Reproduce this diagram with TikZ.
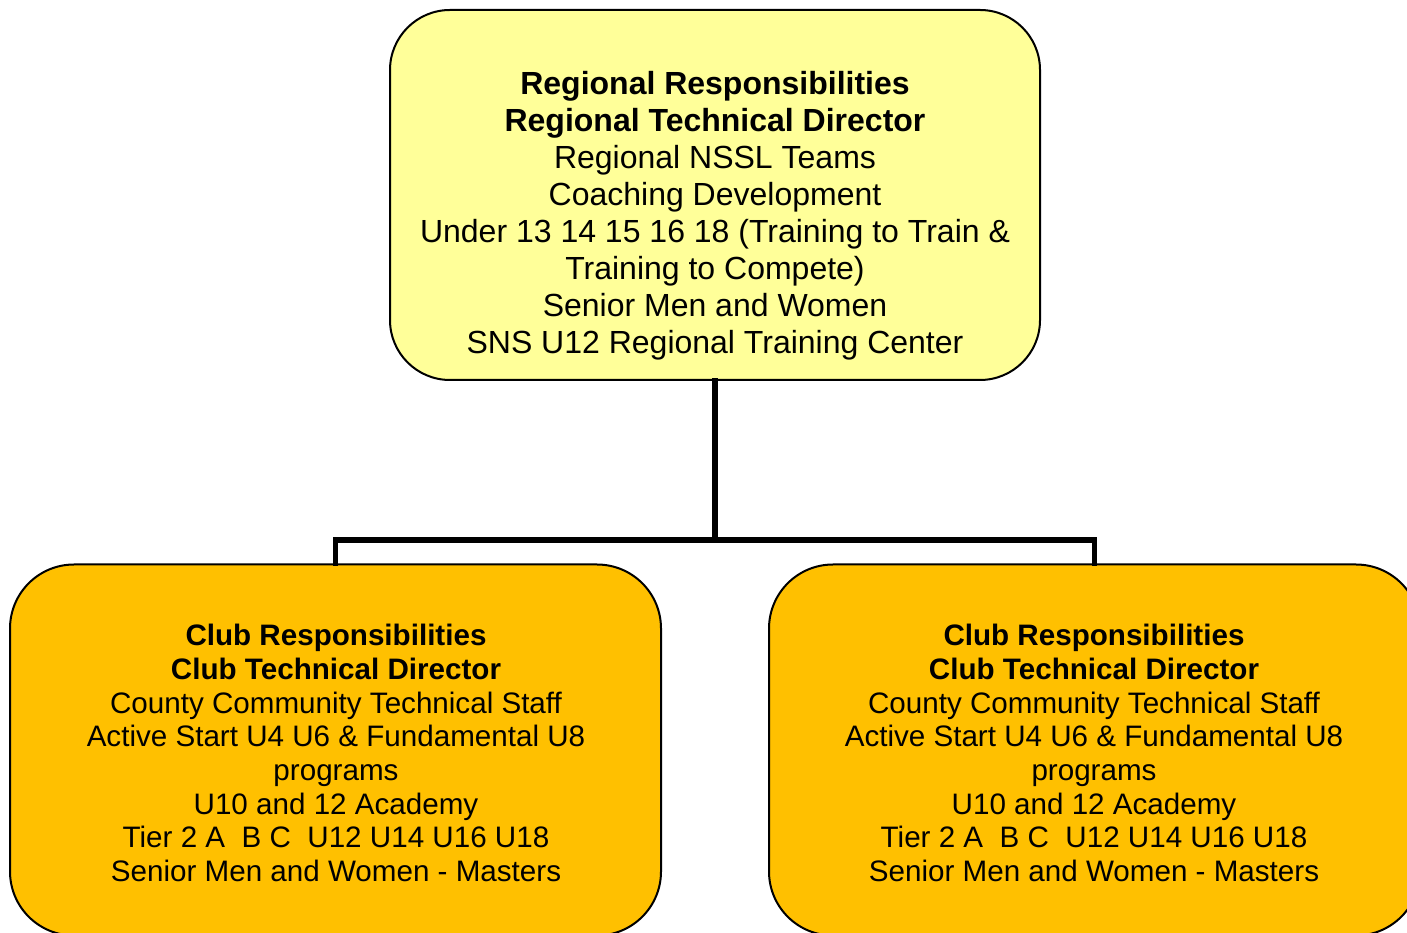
\documentclass[tikz,border=0pt]{standalone}
\usepackage{fontspec}
\setmainfont{Liberation Sans}
\usepackage{tikz}
\usetikzlibrary{calc, positioning}

\definecolor{regyellow}{HTML}{FFFF99}
\definecolor{clubgold}{HTML}{FFC000}

\begin{document}
\begin{tikzpicture}[x=0.5pt, y=0.5pt,
    regbox/.style={draw=black, line width=1pt, fill=regyellow, rounded corners=30pt,
        minimum width=325pt, minimum height=185pt, inner sep=0pt},
    clubbox/.style={draw=black, line width=1pt, fill=clubgold, rounded corners=32pt,
        minimum width=325.5pt, minimum height=185.5pt, inner sep=0pt},
    regtext/.style={align=center, font=\fontsize{16}{18.5}\selectfont},
    clubtext/.style={align=center, font=\fontsize{14.8}{16.85}\selectfont},
    link/.style={line width=2.7pt, line cap=rect}
]
    \useasboundingbox (0, 0) rectangle (1407, 932);
    % boxes
    \node[regbox] (reg) at (715, 737) {};
    \node[clubbox] (clubL) at (335.5, 182) {};
    \node[clubbox] (clubR) at (1094.5, 182) {};
    % connectors
    \coordinate (fork) at (715, 392);
    \draw[link] (reg.south) -- (fork);
    \draw[link] (clubL.north) |- (fork) -| (clubR.north);
    % texts
    \node[regtext] (regtxt) at (715, 716) {%
        \textbf{Regional Responsibilities}\\
        \textbf{Regional Technical Director}\\
        Regional NSSL Teams\\
        Coaching Development\\
        Under 13 14 15 16 18 (Training to Train \&\\
        Training to Compete)\\
        Senior Men and Women\\
        SNS U12 Regional Training Center};
    \node[clubtext] (clubLtxt) at (336, 179) {%
        \textbf{Club Responsibilities}\\
        \textbf{Club Technical Director}\\
        County Community Technical Staff\\
        Active Start U4 U6 \& Fundamental U8\\
        programs\\
        U10 and 12 Academy\\
        Tier 2 A\ \ B C\ \ U12 U14 U16 U18\\
        Senior Men and Women - Masters};
    \node[clubtext] (clubRtxt) at (1094, 179) {%
        \textbf{Club Responsibilities}\\
        \textbf{Club Technical Director}\\
        County Community Technical Staff\\
        Active Start U4 U6 \& Fundamental U8\\
        programs\\
        U10 and 12 Academy\\
        Tier 2 A\ \ B C\ \ U12 U14 U16 U18\\
        Senior Men and Women - Masters};
\end{tikzpicture}
\end{document}
